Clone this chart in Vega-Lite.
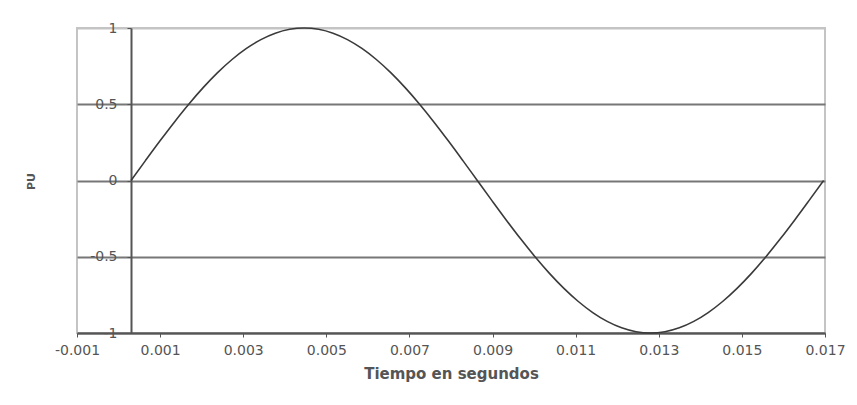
{
  "$schema": "https://vega.github.io/schema/vega-lite/v6.json",
  "width": 748,
  "height": 305,
  "autosize": "none",
  "padding": {"left": 77, "top": 28, "right": 32, "bottom": 72},
  "background": "white",
  "config": {
    "font": "DejaVu Sans",
    "view": {"stroke": "#c4c4c4", "strokeWidth": 2}
  },
  "data": {
    "values": [
      {"t": 0.0003, "pu": 0},
      {"t": 0.000647, "pu": 0.1305},
      {"t": 0.000994, "pu": 0.2588},
      {"t": 0.001342, "pu": 0.3827},
      {"t": 0.001689, "pu": 0.5},
      {"t": 0.002036, "pu": 0.6088},
      {"t": 0.002383, "pu": 0.7071},
      {"t": 0.002731, "pu": 0.7934},
      {"t": 0.003078, "pu": 0.866},
      {"t": 0.003425, "pu": 0.9239},
      {"t": 0.003772, "pu": 0.9659},
      {"t": 0.004119, "pu": 0.9914},
      {"t": 0.004467, "pu": 1},
      {"t": 0.004814, "pu": 0.9914},
      {"t": 0.005161, "pu": 0.9659},
      {"t": 0.005508, "pu": 0.9239},
      {"t": 0.005856, "pu": 0.866},
      {"t": 0.006203, "pu": 0.7934},
      {"t": 0.00655, "pu": 0.7071},
      {"t": 0.006897, "pu": 0.6088},
      {"t": 0.007244, "pu": 0.5},
      {"t": 0.007592, "pu": 0.3827},
      {"t": 0.007939, "pu": 0.2588},
      {"t": 0.008286, "pu": 0.1305},
      {"t": 0.008633, "pu": 0},
      {"t": 0.008981, "pu": -0.1305},
      {"t": 0.009328, "pu": -0.2588},
      {"t": 0.009675, "pu": -0.3827},
      {"t": 0.010022, "pu": -0.5},
      {"t": 0.010369, "pu": -0.6088},
      {"t": 0.010717, "pu": -0.7071},
      {"t": 0.011064, "pu": -0.7934},
      {"t": 0.011411, "pu": -0.866},
      {"t": 0.011758, "pu": -0.9239},
      {"t": 0.012106, "pu": -0.9659},
      {"t": 0.012453, "pu": -0.9914},
      {"t": 0.0128, "pu": -1},
      {"t": 0.013147, "pu": -0.9914},
      {"t": 0.013494, "pu": -0.9659},
      {"t": 0.013842, "pu": -0.9239},
      {"t": 0.014189, "pu": -0.866},
      {"t": 0.014536, "pu": -0.7934},
      {"t": 0.014883, "pu": -0.7071},
      {"t": 0.015231, "pu": -0.6088},
      {"t": 0.015578, "pu": -0.5},
      {"t": 0.015925, "pu": -0.3827},
      {"t": 0.016272, "pu": -0.2588},
      {"t": 0.016619, "pu": -0.1305},
      {"t": 0.016967, "pu": 0}
    ]
  },
  "mark": {"type": "line", "color": "#3a3a3a", "strokeWidth": 1.6, "interpolate": "monotone"},
  "encoding": {
    "x": {
      "field": "t",
      "type": "quantitative",
      "scale": {"domain": [-0.001, 0.017], "nice": false, "zero": false},
      "axis": {
        "title": "Tiempo en segundos",
        "values": [-0.001, 0.001, 0.003, 0.005, 0.007, 0.009, 0.011, 0.013, 0.015, 0.017],
        "labelExpr": "toString(datum.value)",
        "grid": false,
        "domainColor": "#555",
        "domainWidth": 2,
        "tickColor": "#555",
        "tickSize": 4,
        "labelFontSize": 14,
        "labelColor": "#555",
        "labelPadding": 6,
        "labelFlush": false,
        "titleFontSize": 15,
        "titleFontWeight": "bold",
        "titleColor": "#555",
        "titlePadding": 9
      }
    },
    "y": {
      "field": "pu",
      "type": "quantitative",
      "scale": {"domain": [-1, 1], "nice": false},
      "axis": {
        "title": "PU",
        "offset": -54,
        "values": [-1, -0.5, 0, 0.5, 1],
        "labelExpr": "toString(datum.value)",
        "grid": true,
        "gridColor": {"condition": {"test": "datum.value == 1", "value": "#c4c4c4"}, "value": "#777"},
        "gridWidth": 2,
        "domainColor": "#555",
        "domainWidth": 2,
        "tickColor": "#555",
        "tickSize": 4,
        "labelFontSize": 14,
        "labelColor": "#555",
        "labelPadding": 10,
        "labelFlush": false,
        "titleFontSize": 11,
        "titleFontWeight": "bold",
        "titleColor": "#555",
        "titleAngle": -90,
        "titleX": -100,
        "titleY": 153,
        "titleAlign": "center",
        "titleBaseline": "middle"
      }
    }
  }
}
